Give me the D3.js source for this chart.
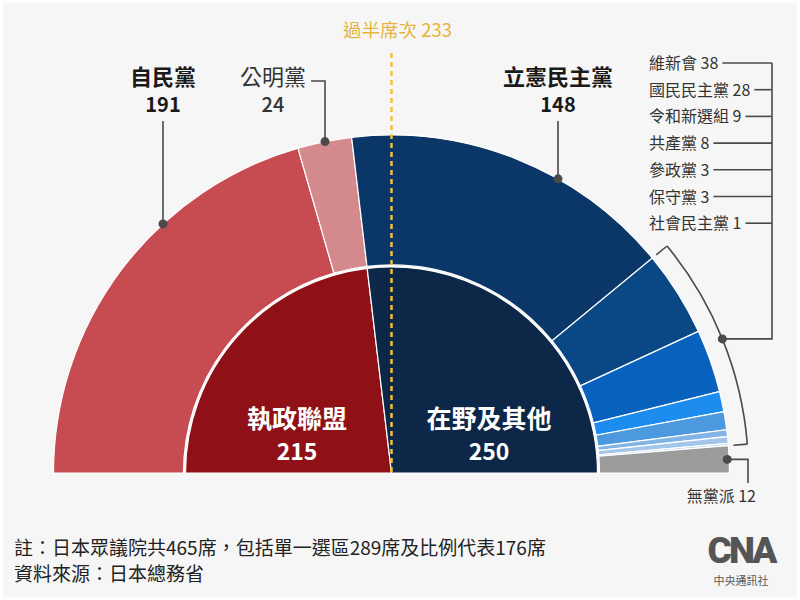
<!DOCTYPE html>
<html lang="zh-Hant">
<head>
<meta charset="UTF-8">
<title>日本眾議院席次</title>
<script src="https://cdnjs.cloudflare.com/ajax/libs/d3/7.8.5/d3.min.js"></script>
<style>
  body { margin: 0; background: #fff; }
  svg { display: block; font-family: "Noto Sans CJK TC", "Noto Sans", sans-serif; }
</style>
</head>
<body>
<div id="chart"></div>
<script>
// parties in the outer ring, left to right
var parties = ["自民黨", "公明黨", "立憲民主黨", "維新會", "國民民主黨", "令和新選組", "共產黨", "參政黨", "保守黨", "社會民主黨", "無黨派"];
var seats = [191, 24, 148, 38, 28, 9, 8, 3, 3, 1, 12];
var partyColors = ["#c64c51", "#d4898d", "#0b3768", "#0a4785", "#0761bd", "#1d8cef", "#4d99e0", "#82b4e6", "#a2c5e9", "#bed4ec", "#9b9b9b"];

// inner half pie
var blocs = ["執政聯盟", "在野及其他"];
var blocSeats = [215, 250];
var blocColors = ["#8f1016", "#0c2747"];

var totalSeats = 465;
var majority = 233;
// small parties grouped by the bracket on the right
var minorParties = ["維新會", "國民民主黨", "令和新選組", "共產黨", "參政黨", "保守黨", "社會民主黨"];

var W = 800, H = 600;
var cx = 391.5, cy = 473;
var rPie = 206, rIn = 208, rOut = 338;

var svg = d3.select("#chart").append("svg")
    .attr("width", W)
    .attr("height", H);

svg.append("rect")
    .attr("x", 3).attr("y", 3)
    .attr("width", W - 6).attr("height", H - 6)
    .attr("fill", "#f6f6f6");

var g = svg.append("g")
    .attr("transform", "translate(" + cx + "," + cy + ")");

var pie = d3.pie().sort(null).value(function(d) { return d; })
    .startAngle(-Math.PI / 2).endAngle(Math.PI / 2);

var outerArcs = pie(seats);
var innerArcs = pie(blocSeats);

var ringArc = d3.arc().innerRadius(rIn).outerRadius(rOut);
var pieArc = d3.arc().innerRadius(0).outerRadius(rPie);

g.selectAll(".ring").data(outerArcs).enter().append("path")
    .attr("class", "ring")
    .attr("d", ringArc)
    .attr("fill", function(d, i) { return partyColors[i]; })
    .attr("stroke", "#fff")
    .attr("stroke-width", 1.2);

g.selectAll(".bloc").data(innerArcs).enter().append("path")
    .attr("class", "bloc")
    .attr("d", pieArc)
    .attr("fill", function(d, i) { return blocColors[i]; })
    .attr("stroke", "#fff")
    .attr("stroke-width", 1.2);

// angle -> point
function pt(a, r) { return [r * Math.sin(a), -r * Math.cos(a)]; }

// majority line
var seatAngle = d3.scaleLinear().domain([0, totalSeats]).range([-Math.PI / 2, Math.PI / 2]);
var mx = pt(seatAngle(totalSeats / 2), 1)[0];
g.append("line")
    .attr("x1", mx).attr("x2", mx)
    .attr("y1", 53 - cy).attr("y2", 0)
    .attr("stroke", "#f2c03a")
    .attr("stroke-width", 2.5)
    .attr("stroke-dasharray", "5,4");

svg.append("text")
    .attr("x", cx + 6).attr("y", 37)
    .attr("text-anchor", "middle")
    .attr("font-size", 18.5)
    .attr("fill", "#e6b43a")
    .text("過半席次 " + majority);

// inner labels
var blocX = [297, 489];
blocs.forEach(function(b, i) {
    svg.append("text")
        .attr("x", blocX[i]).attr("y", 428)
        .attr("text-anchor", "middle")
        .attr("font-size", 25).attr("font-weight", "bold")
        .attr("fill", "#fff")
        .text(b);
    svg.append("text")
        .attr("x", blocX[i]).attr("y", 460)
        .attr("text-anchor", "middle")
        .attr("font-size", 23).attr("font-weight", "bold")
        .attr("fill", "#fff")
        .text(blocSeats[i]);
});

var lineColor = "#4a4a4a";

function dot(x, y) {
    svg.append("circle").attr("cx", x).attr("cy", y).attr("r", 4.5).attr("fill", lineColor);
}
function path(points) {
    svg.append("path")
        .attr("d", d3.line()(points))
        .attr("fill", "none")
        .attr("stroke", lineColor)
        .attr("stroke-width", 1.6);
}
// y on the outer edge for a given x
function edgeY(x) { return cy - Math.sqrt(rOut * rOut - (x - cx) * (x - cx)); }

// big top labels
var topLabels = [
    { i: 0, x: 163, bold: true },
    { i: 1, x: 273, bold: false },
    { i: 2, x: 558, bold: true }
];
topLabels.forEach(function(l) {
    svg.append("text")
        .attr("x", l.x).attr("y", 85)
        .attr("text-anchor", "middle")
        .attr("font-size", 22)
        .attr("font-weight", l.bold ? "bold" : "normal")
        .attr("fill", l.bold ? "#1a1a1a" : "#333")
        .text(parties[l.i]);
    svg.append("text")
        .attr("x", l.x).attr("y", 112)
        .attr("text-anchor", "middle")
        .attr("font-size", 20)
        .attr("font-weight", l.bold ? "bold" : 500)
        .attr("fill", l.bold ? "#1a1a1a" : "#333")
        .text(seats[l.i]);
});
// leaders
path([[163, 121], [163, edgeY(163)]]);
dot(163, edgeY(163));
path([[311, 81], [325, 81], [325, edgeY(325)]]);
dot(325, edgeY(325));
path([[558, 121], [558, edgeY(558)]]);
dot(558, edgeY(558));

// bracket around minor parties
var first = outerArcs[parties.indexOf(minorParties[0])];
var last = outerArcs[parties.indexOf(minorParties[minorParties.length - 1])];
var a0 = first.startAngle, a1 = last.endAngle;
var rB = 357, rT = 343;
g.append("path")
    .attr("d", d3.arc().innerRadius(rB).outerRadius(rB).startAngle(a0).endAngle(a1)())
    .attr("fill", "none").attr("stroke", lineColor).attr("stroke-width", 1.6);
[a0, a1].forEach(function(a) {
    g.append("line")
        .attr("x1", pt(a, rT)[0]).attr("y1", pt(a, rT)[1])
        .attr("x2", pt(a, rB)[0]).attr("y2", pt(a, rB)[1])
        .attr("stroke", lineColor).attr("stroke-width", 1.6);
});
var bm = pt((a0 + a1) / 2, rB);
var bx = cx + bm[0], by = cy + bm[1];
var railX = 772;
var listY0 = 63, listStep = 26.7;
path([[bx, by], [railX, by], [railX, listY0]]);
dot(bx, by);

minorParties.forEach(function(p, k) {
    var y = listY0 + k * listStep;
    var t = svg.append("text")
        .attr("x", 649).attr("y", y + 6)
        .attr("font-size", 16)
        .attr("fill", "#333")
        .text(p + " " + seats[parties.indexOf(p)]);
    var end = 649 + t.node().getComputedTextLength();
    path([[end + 4, y], [railX, y]]);
});

// independents
var ind = outerArcs[parties.indexOf("無黨派")];
var ip = pt((ind.startAngle + ind.endAngle) / 2, rOut - 2);
var ix = cx + ip[0], iy = cy + ip[1];
path([[ix, iy], [748, iy], [748, 483]]);
dot(ix, iy);
svg.append("text")
    .attr("x", 756).attr("y", 502)
    .attr("text-anchor", "end")
    .attr("font-size", 16)
    .attr("fill", "#333")
    .text("無黨派 " + seats[parties.indexOf("無黨派")]);

// footer
svg.append("text")
    .attr("x", 14).attr("y", 555)
    .attr("font-size", 19)
    .attr("fill", "#222")
    .text("註：日本眾議院共465席，包括單一選區289席及比例代表176席");
svg.append("text")
    .attr("x", 14).attr("y", 581)
    .attr("font-size", 19)
    .attr("fill", "#222")
    .text("資料來源：日本總務省");

// CNA logo
svg.append("text")
    .attr("x", 741).attr("y", 563)
    .attr("text-anchor", "middle")
    .attr("font-family", "Roboto, sans-serif")
    .attr("font-size", 37).attr("font-weight", 900)
    .attr("letter-spacing", -3)
    .attr("fill", "#555")
    .text("CNA");
svg.append("text")
    .attr("x", 741).attr("y", 585)
    .attr("text-anchor", "middle")
    .attr("font-size", 11)
    .attr("fill", "#555")
    .text("中央通訊社");
</script>
</body>
</html>
